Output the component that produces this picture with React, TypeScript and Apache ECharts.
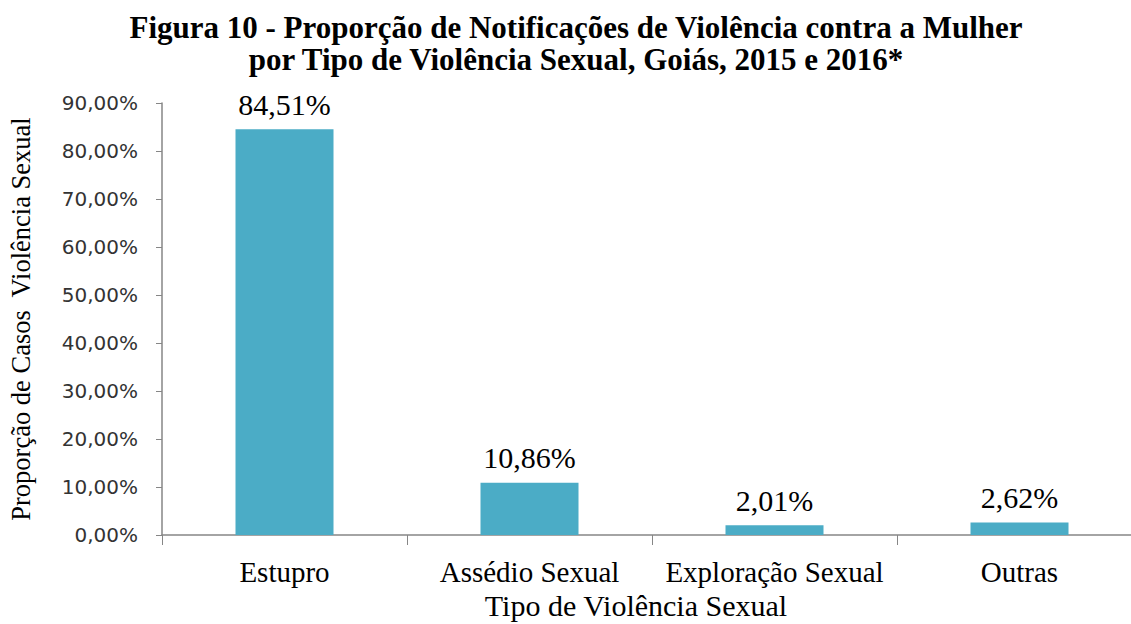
import React, { useEffect, useRef } from "react";
import * as echarts from "echarts";

const categories = ["Estupro", "Assédio Sexual", "Exploração Sexual", "Outras"];
const values = [84.51, 10.86, 2.01, 2.62];
const titleLines = [
  "Figura 10 - Proporção de Notificações de Violência contra a Mulher",
  "por Tipo de Violência Sexual, Goiás, 2015 e 2016*",
];
const yAxisName = "Proporção de Casos  Violência Sexual";
const xAxisName = "Tipo de Violência Sexual";

const fmt = (v: number) => v.toFixed(2).replace(".", ",") + "%";

export default function App() {
  const ref = useRef<HTMLDivElement>(null);
  useEffect(() => {
    const chart = echarts.init(ref.current!, undefined, { renderer: "svg" });
    const serif = "'Liberation Serif', 'Times New Roman', serif";
    chart.setOption({
      animation: false,
      backgroundColor: "#ffffff",
      title: {
        text: titleLines.join("\n"),
        left: 571,
        textAlign: "center",
        top: 6,
        textStyle: {
          fontFamily: serif,
          fontWeight: "bold",
          fontSize: 31,
          lineHeight: 32,
          color: "#000",
        },
      },
      grid: {
        left: 162,
        right: -11,
        top: 103,
        bottom: 89,
        containLabel: false,
        outerBoundsMode: "none",
      },
      xAxis: {
        type: "category",
        data: categories,
        axisLine: { lineStyle: { color: "#868686", width: 1.5 } },
        axisTick: { show: true, length: 10, lineStyle: { color: "#868686" } },
        axisLabel: {
          interval: 0,
          hideOverlap: false,
          fontFamily: serif,
          fontSize: 29,
          color: "#000",
          margin: 22,
        },
      },
      yAxis: {
        type: "value",
        min: 0,
        max: 90,
        interval: 10,
        name: yAxisName,
        nameLocation: "middle",
        nameGap: 128,
        nameTextStyle: { fontFamily: serif, fontSize: 26.5, color: "#000" },
        axisLine: { show: true, lineStyle: { color: "#868686", width: 1.5 } },
        axisTick: { show: true, length: 6, lineStyle: { color: "#868686" } },
        splitLine: { show: false },
        axisLabel: {
          fontFamily: "'DejaVu Sans', Verdana, sans-serif",
          fontSize: 20,
          color: "#333",
          margin: 24,
          formatter: (v: number) => fmt(v),
        },
      },
      graphic: [
        {
          type: "text",
          x: 636,
          y: 605,
          style: {
            text: xAxisName,
            fontFamily: serif,
            fontSize: 30,
            fill: "#000",
            align: "center",
            verticalAlign: "middle",
          },
        },
      ],
      series: [
        {
          type: "bar",
          data: values,
          barWidth: "40%",
          itemStyle: { color: "#4BACC6" },
          label: {
            show: true,
            position: "top",
            distance: 10,
            fontFamily: serif,
            fontSize: 30,
            color: "#000",
            formatter: (p: any) => fmt(p.value),
          },
        },
      ],
    });
    return () => chart.dispose();
  }, []);
  return (
    <div
      ref={ref}
      style={{ position: "fixed", left: 0, top: 0, width: 1131, height: 624 }}
    />
  );
}
